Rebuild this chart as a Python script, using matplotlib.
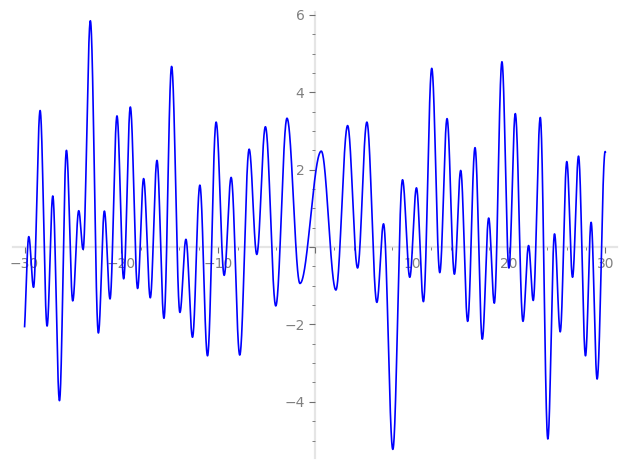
# ============================================================
# Oscillating curve on centred axes
# File : plot.py
# ============================================================

# ----------------------------
# Step 1 : Import Libraries
# ----------------------------

import numpy as np
import matplotlib

matplotlib.use('Agg')

import matplotlib.pyplot as plt
from matplotlib.ticker import MultipleLocator, FuncFormatter

# ----------------------------
# Step 2 : Data (turning points)
# ----------------------------

# first and last entries are lead-in / lead-out points outside [-30, 30]
peak_x = [-30.10, -29.56, -29.07, -28.39, -27.67, -27.08, -26.39, -25.67, -25.02,
          -24.40, -23.95, -23.20, -22.37, -21.75, -21.17, -20.45, -19.76, -19.07,
          -18.32, -17.70, -17.01, -16.32, -15.60, -14.81, -13.95, -13.33, -12.65,
          -11.89, -11.10, -10.21, -9.38, -8.66, -7.77, -6.80, -6.01, -5.12,
          -4.05, -2.89, -1.55, 0.65, 2.16, 3.37, 4.40, 5.36, 6.39,
          7.08, 8.04, 9.04, 9.79, 10.48, 11.20, 12.06, 12.89, 13.64,
          14.40, 15.05, 15.77, 16.53, 17.28, 17.94, 18.52, 19.31, 20.03,
          20.69, 21.48, 22.06, 22.54, 23.27, 24.05, 24.74, 25.33, 26.01,
          26.60, 27.22, 27.94, 28.52, 29.14, 29.97, 30.60]

peak_y = [-2.30, 0.27, -1.04, 3.53, -2.04, 1.32, -3.97, 2.50, -1.39,
          0.94, -0.06, 5.85, -2.22, 0.93, -1.34, 3.39, -0.82, 3.62,
          -1.07, 1.77, -1.31, 2.24, -1.84, 4.67, -1.69, 0.20, -2.33,
          1.60, -2.81, 3.23, -0.73, 1.80, -2.79, 2.53, -0.19, 3.11,
          -1.52, 3.33, -0.94, 2.48, -1.11, 3.14, -0.54, 3.23, -1.43,
          0.60, -5.23, 1.74, -0.78, 1.53, -1.41, 4.62, -0.66, 3.32,
          -0.70, 1.98, -1.92, 2.57, -2.38, 0.75, -1.45, 4.79, -0.54,
          3.45, -1.92, 0.04, -1.38, 3.35, -4.96, 0.34, -2.19, 2.21,
          -0.78, 2.35, -2.81, 0.64, -3.41, 2.47, -2.00]

x_start = -30
x_end = 30

# ----------------------------
# Step 3 : Build smooth curve between turning points
# ----------------------------

xs = []
ys = []
for i in range(len(peak_x) - 1):
    t = np.linspace(0, 1, 60, endpoint=False)
    ease = (1 - np.cos(np.pi * t)) / 2
    xs.append(peak_x[i] + (peak_x[i + 1] - peak_x[i]) * t)
    ys.append(peak_y[i] + (peak_y[i + 1] - peak_y[i]) * ease)
xs = np.concatenate(xs)
ys = np.concatenate(ys)

keep = (xs >= x_start) & (xs <= x_end)
xs = xs[keep]
ys = ys[keep]

# ----------------------------
# Step 4 : Plot
# ----------------------------

fig = plt.figure(figsize=(6.27, 4.69), dpi=100)
ax = fig.add_axes([0.0207, 0.0235, 0.9633, 0.9505])

ax.plot(xs, ys, color='#0000ff', linewidth=1.2, zorder=3)
ax.margins(0.02)

# sage-like axes through the origin
for side in ['top', 'right']:
    ax.spines[side].set_visible(False)
for side in ['left', 'bottom']:
    ax.spines[side].set_position(('data', 0))
    ax.spines[side].set_color('#e5e5e5')
    ax.spines[side].set_linewidth(1.6)
    ax.spines[side].set_zorder(1)

ax.xaxis.set_major_locator(MultipleLocator(10))
ax.xaxis.set_minor_locator(MultipleLocator(2))
ax.yaxis.set_major_locator(MultipleLocator(2))
ax.yaxis.set_minor_locator(MultipleLocator(0.5))

hide_zero = FuncFormatter(lambda v, pos: '' if abs(v) < 1e-9 else f'{v:g}'.replace('-', '\u2212'))
ax.xaxis.set_major_formatter(hide_zero)
ax.yaxis.set_major_formatter(hide_zero)

ax.tick_params(which='major', length=4, width=0.8, color='#6e6e6e',
               labelcolor='#808080', labelsize=10)
ax.tick_params(which='minor', length=2, width=0.6, color='#6e6e6e')

# ----------------------------
# Step 5 : Save
# ----------------------------

plt.savefig('out.png', dpi=100)
plt.close()
